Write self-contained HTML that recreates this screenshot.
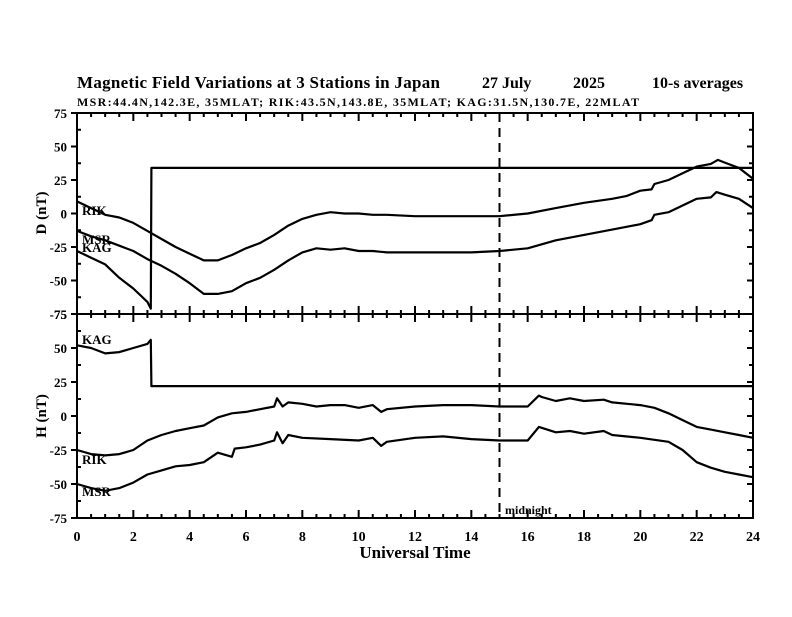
<!DOCTYPE html>
<html><head><meta charset="utf-8"><style>
body{margin:0;background:#fff;}
svg text{font-family:"Liberation Serif",serif;font-weight:bold;fill:#000;}
</style></head><body>
<svg id="chart" width="792" height="612" viewBox="0 0 792 612" xmlns="http://www.w3.org/2000/svg">
<rect width="792" height="612" fill="#fff"/>
<text x="77" y="88" font-size="17" textLength="363">Magnetic Field Variations at 3 Stations in Japan</text>
<text x="482" y="88" font-size="16">27 July</text>
<text x="573" y="88" font-size="16">2025</text>
<text x="652" y="88" font-size="16">10-s averages</text>
<text x="77" y="106" font-size="12" textLength="562">MSR:44.4N,142.3E, 35MLAT;  RIK:43.5N,143.8E, 35MLAT;  KAG:31.5N,130.7E, 22MLAT</text>
<g id="axes"></g>
<g id="series"></g>
<text x="415" y="558" font-size="17" text-anchor="middle">Universal Time</text>
<text transform="translate(46,213) rotate(-90)" font-size="15" text-anchor="middle">D (nT)</text>
<text transform="translate(46,416) rotate(-90)" font-size="15" text-anchor="middle">H (nT)</text>
<text x="82" y="215" font-size="13">RIK</text>
<text x="82" y="244" font-size="13">MSR</text>
<text x="82" y="252" font-size="13">KAG</text>
<text x="82" y="344" font-size="13">KAG</text>
<text x="82" y="464" font-size="13">RIK</text>
<text x="82" y="496" font-size="13">MSR</text>
<text x="505" y="514" font-size="12">midnight</text>
</svg>
<script>
const xTicks=[0,2,4,6,8,10,12,14,16,18,20,22,24];
const yTicks=[75,50,25,0,-25,-50,-75];
const midnightHour=15;
const tRikD=[0,0.5,1,1.5,2,2.5,3,3.5,4,4.5,5,5.5,6,6.5,7,7.5,8,8.5,9,9.5,10,10.5,11,12,13,14,15,16,17,18,19,19.5,20,20.4,20.5,21,21.5,22,22.5,22.75,23,23.5,24];
const vRikD=[9,4,-1,-3,-7,-13,-19,-25,-30,-35,-35,-31,-26,-22,-16,-9,-4,-1,1,0,0,-1,-1,-2,-2,-2,-2,0,4,8,11,13,17,18,22,25,30,35,37,40,38,34,26];
const tMsrD=[0,0.5,1,1.5,2,2.5,3,3.5,4,4.5,5,5.5,6,6.5,7,7.5,8,8.5,9,9.5,10,10.5,11,12,13,14,15,16,17,18,19,20,20.4,20.5,21,21.5,22,22.5,22.7,23,23.5,24];
const vMsrD=[-13,-17,-20,-24,-28,-34,-39,-45,-52,-60,-60,-58,-52,-48,-42,-35,-29,-26,-27,-26,-28,-28,-29,-29,-29,-29,-28,-26,-20,-16,-12,-8,-5,-1,1,6,11,12,16,14,11,4];
const tKagD=[0,0.5,1,1.5,2,2.5,2.62,2.64,24];
const vKagD=[-28,-33,-38,-48,-56,-66,-71,34,34];
const tKagH=[0,0.5,1,1.5,2,2.5,2.62,2.64,24];
const vKagH=[52,50,46,47,50,53,56,22,22];
const tRikH=[0,0.5,1,1.5,2,2.5,3,3.5,4,4.5,5,5.5,6,6.5,7,7.1,7.3,7.5,8,8.5,9,9.5,10,10.5,10.8,11,12,13,14,15,16,16.4,16.5,17,17.5,18,18.7,19,20,20.5,21,21.5,22,22.5,23,23.5,24];
const vRikH=[-25,-28,-29,-28,-25,-18,-14,-11,-9,-7,-1,2,3,5,7,13,7,10,9,7,8,8,6,8,3,5,7,8,8,7,7,15,14,11,13,11,12,10,8,6,2,-3,-8,-10,-12,-14,-16];
const tMsrH=[0,0.5,1,1.5,2,2.5,3,3.5,4,4.5,5,5.5,5.6,6,6.5,7,7.1,7.3,7.5,8,9,10,10.5,10.8,11,12,13,14,15,16,16.4,17,17.5,18,18.7,19,20,21,21.5,22,22.5,23,23.5,24];
const vMsrH=[-50,-53,-55,-53,-49,-43,-40,-37,-36,-34,-27,-30,-24,-23,-21,-18,-12,-20,-14,-16,-17,-18,-16,-22,-19,-16,-15,-17,-18,-18,-8,-12,-11,-13,-11,-14,-16,-19,-25,-34,-38,-41,-43,-45];

const X0=77,X1=753;
const xs=h=>X0+(h/24)*(X1-X0);
const panels=[{top:113,bot:314,name:'d'},{top:314,bot:518,name:'h'}];
const ys=(p,v)=>p.top+(75-v)/150*(p.bot-p.top);
const NS='http://www.w3.org/2000/svg';
const axes=document.getElementById('axes'),ser=document.getElementById('series');
function mk(parent,tag,attrs){const e=document.createElementNS(NS,tag);for(const k in attrs)e.setAttribute(k,attrs[k]);parent.appendChild(e);return e;}
let d='';
panels.forEach(p=>{
  d+=`M${X0},${p.top}H${X1}V${p.bot}H${X0}Z`;
  for(let h=0;h<=24;h+=0.5){const x=xs(h);const L=(h%2===0)?8:4;d+=`M${x},${p.top}v${L}M${x},${p.bot}v${-L}`;}
  for(let v=-75;v<=75;v+=12.5){const y=ys(p,v);const maj=(v%25===0);
    if(maj)d+=`M${X0-6},${y}H${X0}`;else d+=`M${X0},${y}h4`;
    d+=`M${X1},${y}h${maj?-6:-4}`;}
  yTicks.forEach(v=>{
    const t=mk(axes,'text',{x:X0-10,y:ys(p,v)+5,'font-size':13,'text-anchor':'end'});
    
    
    t.textContent=v;});
});
const ax=mk(axes,'path',{d:d,stroke:'#000','stroke-width':2,fill:'none'});


xTicks.forEach(h=>{
  const t=mk(axes,'text',{x:xs(h),y:541,'font-size':14,'text-anchor':'middle'});
  
  
  t.textContent=h;});
const mid=mk(axes,'line',{x1:xs(midnightHour),x2:xs(midnightHour),y1:113,y2:518,stroke:'#000','stroke-width':2,'stroke-dasharray':'9,6'});


function line(p,t,v,name){
  const pts=t.map((h,i)=>xs(h).toFixed(1)+','+ys(p,v[i]).toFixed(1)).join(' ');
  const e=mk(ser,'polyline',{points:pts,fill:'none',stroke:'#000','stroke-width':2.2,'stroke-linejoin':'round'});
  
  
}
line(panels[0],tRikD,vRikD,'series-rik-d');
line(panels[0],tMsrD,vMsrD,'series-msr-d');
line(panels[0],tKagD,vKagD,'series-kag-d');
line(panels[1],tKagH,vKagH,'series-kag-h');
line(panels[1],tRikH,vRikH,'series-rik-h');
line(panels[1],tMsrH,vMsrH,'series-msr-h');
</script>
</body></html>
